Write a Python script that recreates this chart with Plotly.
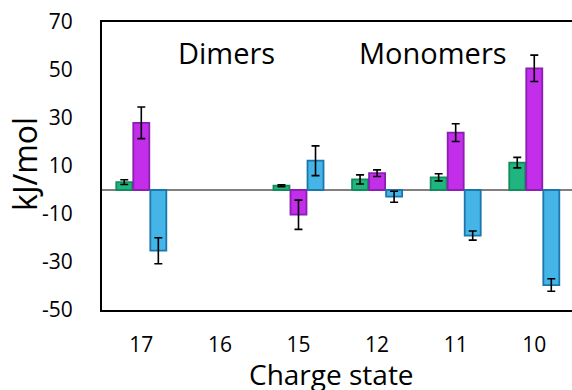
import plotly.graph_objects as go

categories = ["17", "16", "15", "12", "11", "10"]
green_vals = [3.3, None, 1.8, 4.4, 5.3, 11.4]
green_err = [1.0, None, 0.4, 1.9, 1.5, 2.2]
purple_vals = [28.0, None, -10.3, 7.0, 23.9, 50.7]
purple_err = [6.6, None, 6.1, 1.4, 3.7, 5.5]
blue_vals = [-25.3, None, 12.2, -2.8, -19.0, -39.6]
blue_err = [5.4, None, 6.2, 2.3, 1.9, 2.6]
y_ticks = [-50, -30, -10, 10, 30, 50, 70]
y_ticktext = ["-50", "-30", "-10", "10", "30", "50", "70"]

xpos = list(range(len(categories)))
FONT = "Open Sans"

fig = go.Figure()
series = [
    (green_vals, green_err, "#1FB57F", "#168A5F"),
    (purple_vals, purple_err, "#C22EEA", "#8A1FB0"),
    (blue_vals, blue_err, "#45B4E6", "#1D76AA"),
]
for vals, errs, fill, edge in series:
    fig.add_trace(go.Bar(
        x=xpos, y=vals,
        marker=dict(color=fill, line=dict(color=edge, width=1.8)),
        error_y=dict(type="data", array=errs, visible=True, color="black",
                     thickness=1.6, width=4),
        showlegend=False,
    ))

fig.update_layout(
    width=572, height=390,
    margin=dict(l=102, r=0, t=22, b=80),
    barmode="group", bargap=0.35, bargroupgap=0.06,
    plot_bgcolor="white", paper_bgcolor="white",
    font=dict(family=FONT, color="black"),
    xaxis=dict(
        range=[-0.5, 5.48], tickvals=xpos, ticktext=categories,
        showline=True, linecolor="black", linewidth=2, mirror=True,
        showgrid=False, zeroline=False, ticks="",
        tickfont=dict(size=21, family=FONT, color="black"),
        ticklabelstandoff=15,
    ),
    yaxis=dict(
        range=[-50, 70], tickvals=y_ticks, ticktext=y_ticktext,
        showline=True, linecolor="black", linewidth=2, mirror=False,
        showgrid=False, zeroline=True, zerolinecolor="#808080", zerolinewidth=2,
        ticks="", tickfont=dict(size=21, family=FONT, color="black"),
        ticklabelstandoff=23,
    ),
    annotations=[
        dict(text="Dimers", x=1.08, y=57.5, xref="x", yref="y", showarrow=False,
             xanchor="center", yanchor="middle",
             font=dict(size=29, family=FONT, color="black")),
        dict(text="Monomers", x=3.71, y=57.5, xref="x", yref="y", showarrow=False,
             xanchor="center", yanchor="middle",
             font=dict(size=29, family=FONT, color="black")),
        dict(text="kJ/mol", x=-0.164, y=0.507, xref="paper", yref="paper",
             textangle=-90, showarrow=False, xanchor="center", yanchor="middle",
             font=dict(size=32, family=FONT, color="black")),
        dict(text="Charge state", x=0.488, y=-0.222, xref="paper", yref="paper",
             showarrow=False, xanchor="center", yanchor="middle",
             font=dict(size=28, family=FONT, color="black")),
    ],
)

fig.write_html("out.html")
